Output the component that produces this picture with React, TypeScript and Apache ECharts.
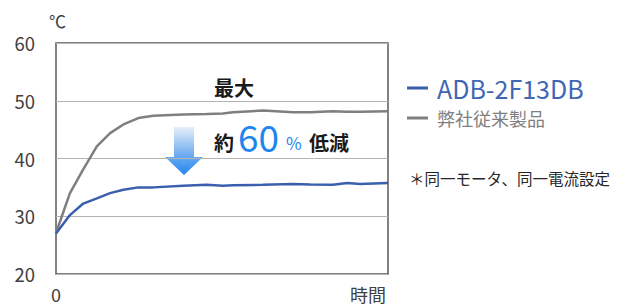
import React, { useEffect, useRef } from "react";
import * as echarts from "echarts";

const xs = [0, 4.2, 8.2, 12.3, 16.3, 20.3, 24.8, 29.3, 38.3, 45.4, 50.3, 53.3, 62.3, 71.4, 76.5, 83.4, 87.7, 91.6, 100];
const conventional = [27.1, 34.0, 38.1, 42.1, 44.4, 45.9, 47.0, 47.4, 47.6, 47.7, 47.8, 48.0, 48.3, 48.0, 48.0, 48.2, 48.1, 48.1, 48.2];
const adb = [27.0, 30.2, 32.2, 33.1, 34.0, 34.6, 35.0, 35.0, 35.3, 35.45, 35.3, 35.35, 35.45, 35.6, 35.5, 35.45, 35.75, 35.6, 35.75];
const yTicks = [20, 30, 40, 50, 60];
const seriesNames = ["ADB-2F13DB", "弊社従来製品"];

const FONT = "'Noto Sans CJK JP', 'Noto Sans', sans-serif";

function txt(text: string, x: number, y: number, extra: any = {}) {
  return {
    type: "text",
    x,
    y,
    style: { text, fontFamily: FONT, textAlign: "left", textVerticalAlign: "middle", ...extra },
  };
}

export default function App() {
  const ref = useRef<HTMLDivElement>(null);
  useEffect(() => {
    document.body.style.margin = "0";
    if (!ref.current) return;
    const chart = echarts.init(ref.current, null, { renderer: "svg" });
    chart.setOption({
      animation: false,
      grid: {
        left: 56,
        right: 237,
        top: 43,
        bottom: 33,
        show: true,
        borderColor: "#595959",
        borderWidth: 1.5,
        backgroundColor: "transparent",
      },
      xAxis: {
        type: "value",
        min: 0,
        max: 100,
        interval: 100,
        axisLine: { show: false },
        axisTick: { show: false },
        splitLine: { show: false },
        axisLabel: {
          formatter: (v: number) => (v === 0 ? "0" : ""),
          fontSize: 18,
          color: "#404040",
          fontFamily: FONT,
          margin: 11,
        },
      },
      yAxis: {
        type: "value",
        min: yTicks[0],
        max: yTicks[yTicks.length - 1],
        interval: 10,
        axisLine: { show: false },
        axisTick: { show: false },
        splitLine: { show: true, lineStyle: { color: "#b4b4b4", width: 1.2 } },
        axisLabel: {
          fontSize: 18.5,
          color: "#404040",
          fontFamily: FONT,
          margin: 21,
        },
      },
      series: [
        {
          name: seriesNames[1],
          type: "line",
          data: xs.map((x, i) => [x, conventional[i]]),
          symbol: "none",
          lineStyle: { color: "#7f7f7f", width: 2.5 },
        },
        {
          name: seriesNames[0],
          type: "line",
          data: xs.map((x, i) => [x, adb[i]]),
          symbol: "none",
          lineStyle: { color: "#3a5fae", width: 2.5 },
        },
      ],
      graphic: [
        txt("℃", 49, 20, { fontSize: 17, fill: "#404040" }),
        txt("時間", 350, 294, { fontSize: 18, fill: "#404040" }),
        txt("最大", 214, 87, { fontSize: 20, fontWeight: "bold", fill: "#1a1a1a" }),
        txt("約", 214, 142, { fontSize: 20, fontWeight: "bold", fill: "#1a1a1a" }),
        txt("60", 238, 136, { fontSize: 37, fill: "#1f86ee" }),
        txt("%", 286, 142, { fontSize: 17, fill: "#1f86ee" }),
        txt("低減", 309, 142, { fontSize: 20, fontWeight: "bold", fill: "#1a1a1a" }),
        {
          type: "polygon",
          shape: {
            points: [[174, 127], [194, 127], [194, 157], [203, 157], [184, 175], [165, 157], [174, 157]],
          },
          style: {
            fill: new echarts.graphic.LinearGradient(0, 0, 0, 1, [
              { offset: 0, color: "#e8eff8" },
              { offset: 0.6, color: "#6aaaf0" },
              { offset: 1, color: "#2586f2" },
            ]),
          },
        },
        { type: "line", shape: { x1: 407, y1: 88, x2: 428, y2: 88 }, style: { stroke: "#3a5fae", lineWidth: 3 } },
        txt(seriesNames[0], 437, 88, { fontSize: 25, fill: "#3f67b3" }),
        { type: "line", shape: { x1: 407, y1: 118, x2: 428, y2: 118 }, style: { stroke: "#7f7f7f", lineWidth: 3 } },
        txt(seriesNames[1], 437, 118, { fontSize: 18, fill: "#808080" }),
        txt("＊同一モータ、同一電流設定", 409, 178, { fontSize: 15.5, fill: "#262626" }),
      ],
    });
    return () => chart.dispose();
  }, []);
  return <div ref={ref} style={{ width: 625, height: 307 }} />;
}
